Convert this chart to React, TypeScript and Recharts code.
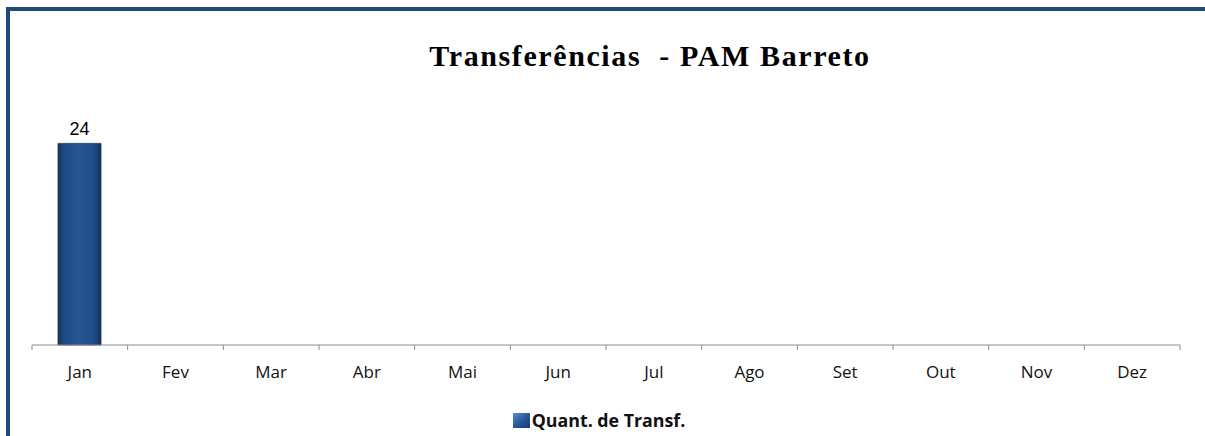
import React from 'react';
import { BarChart, Bar, XAxis, YAxis, Legend, LabelList } from 'recharts';

const months = ['Jan', 'Fev', 'Mar', 'Abr', 'Mai', 'Jun', 'Jul', 'Ago', 'Set', 'Out', 'Nov', 'Dez'];
const transfers: (number | null)[] = [24, null, null, null, null, null, null, null, null, null, null, null];
const seriesName = 'Quant. de Transf.';
const title = 'Transferências  - PAM Barreto';

const data = months.map((m, i) => ({ month: m, value: transfers[i] }));

const MonthTick = (props: any) => {
  const { x, y, payload, index } = props;
  const half = payload && payload.offset ? payload.offset : 47.8;
  const last = index === months.length - 1;
  return (
    <g>
      <line x1={x - half} x2={x - half} y1={y - 5} y2={y} stroke="#8c8c8c" strokeWidth={1} />
      {last && <line x1={x + half} x2={x + half} y1={y - 5} y2={y} stroke="#8c8c8c" strokeWidth={1} />}
      <text x={x} y={y} dy={28} textAnchor="middle" fontFamily="'Open Sans', sans-serif" fontSize={17} fill="#111">
        {payload.value}
      </text>
    </g>
  );
};

const LegendContent = () => (
  <div style={{ display: 'flex', justifyContent: 'center', alignItems: 'center', height: 24 }}>
    <div style={{ display: 'flex', alignItems: 'center', marginLeft: -14 }}>
      <svg width={17} height={15} style={{ marginRight: 2 }}>
        <rect x={0} y={0} width={17} height={15} fill="url(#legGrad)" />
      </svg>
      <span style={{ fontFamily: "'Open Sans', sans-serif", fontWeight: 700, fontSize: 17.8, color: '#111' }}>{seriesName}</span>
    </div>
  </div>
);

export default function App() {
  return (
    <div style={{ position: 'absolute', left: 0, top: 0, width: 1205, height: 436, background: '#fff', overflow: 'hidden' }}>
      <div style={{ position: 'absolute', left: 6, top: 7, width: 1300, height: 500, borderLeft: '4px solid #1f4a7e', borderTop: '4px solid #1f4a7e' }} />
      <div style={{ position: 'absolute', left: 0, top: 0, width: 1300, height: 436 }}>
        <BarChart width={1205} height={436} data={data} margin={{ top: 93, right: 25, bottom: 4, left: 32 }} barSize={43}>
          <defs>
            <linearGradient id="barGrad" x1="0" y1="0" x2="1" y2="0">
              <stop offset="0%" stopColor="#15345f" />
              <stop offset="15%" stopColor="#1f4a85" />
              <stop offset="50%" stopColor="#285796" />
              <stop offset="85%" stopColor="#1f4a85" />
              <stop offset="100%" stopColor="#122e55" />
            </linearGradient>
            <linearGradient id="legGrad" x1="0" y1="0" x2="1" y2="1">
              <stop offset="0%" stopColor="#5b8ed0" />
              <stop offset="50%" stopColor="#2a5a9a" />
              <stop offset="100%" stopColor="#173a6c" />
            </linearGradient>
          </defs>
          <XAxis dataKey="month" height={63} axisLine={{ stroke: '#8c8c8c' }} tickLine={false} tickSize={5} tickMargin={0} tick={<MonthTick />} interval={0} />
          <YAxis hide domain={[0, 30]} />
          <Legend verticalAlign="bottom" height={24} content={<LegendContent />} />
          <Bar dataKey="value" name={seriesName} fill="url(#barGrad)" stroke="#163660" strokeWidth={0.8} isAnimationActive={false}>
            <LabelList dataKey="value" position="top" offset={8} formatter={(v: any) => (v == null ? '' : v)} fill="#000" fontSize={18} fontFamily="'Liberation Sans', Arial, sans-serif" />
          </Bar>
        </BarChart>
      </div>
      <div style={{ position: 'absolute', left: 300, width: 700, top: 39, textAlign: 'center', fontFamily: "'Liberation Serif', 'Times New Roman', serif", fontWeight: 700, fontSize: 30, lineHeight: '34px', letterSpacing: 1.6, color: '#000', whiteSpace: 'pre' }}>
        {title}
      </div>
    </div>
  );
}
